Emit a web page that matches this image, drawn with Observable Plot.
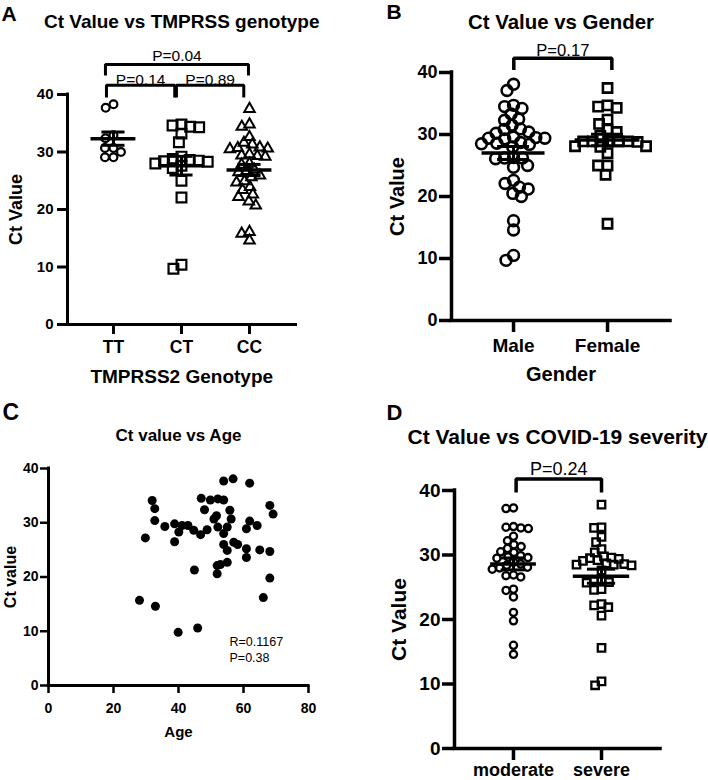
<!DOCTYPE html>
<html><head><meta charset="utf-8">
<script src="https://cdn.jsdelivr.net/npm/d3@7"></script>
<script src="https://cdn.jsdelivr.net/npm/@observablehq/plot@0.6"></script>
<style>
body{margin:0;background:#fff;}
#fig{position:relative;width:708px;height:780px;overflow:hidden;background:#fff;}
.panel{position:absolute;width:354px;height:390px;}
.panel g[aria-label$="tick label"], .panel g[aria-label$="tick label"] text{font-weight:bold !important;}
</style></head><body>
<div id="fig"></div>
<script>
// ---------- data ----------
const yTicks = [0, 10, 20, 30, 40];

// Panel A
const genotypes = ["TT", "CT", "CC"];
const ctTT = [38.3, 37.7, 32.9, 32.4, 30.7, 30.7, 30.0, 29.1, 29.1];
const ctCT = [34.8, 34.6, 34.4, 34.3, 33.2, 31.7, 29.2, 28.8, 28.6, 28.5, 28.4, 28.3, 28.0, 27.6, 27.2, 25.0, 22.1, 10.4, 9.7];
const ctCC = [37.5, 34.8, 34.4, 32.6, 31.6, 31.3, 30.8, 30.7, 30.6, 30.5, 29.6, 29.4, 29.3, 29.2, 28.0, 27.8, 26.9, 26.7, 26.5, 25.9, 25.6, 24.9, 24.7, 23.9, 23.4, 22.6, 22.2, 21.4, 20.7, 16.1, 15.8, 14.6];
const pA = ["P=0.04", "P=0.14", "P=0.89"];

// Panel B
const genders = ["Male", "Female"];
const ctMale = [38.1, 37.1, 34.7, 34.5, 34.2, 33.3, 32.5, 32.3, 31.5, 30.9, 30.8, 30.4, 30.2, 29.6, 29.5, 29.4, 29.4, 29.3, 28.7, 28.6, 28.5, 28.4, 28.0, 26.3, 26.2, 26.2, 26.1, 25.0, 24.7, 22.6, 22.1, 21.5, 21.2, 20.5, 20.0, 16.1, 14.6, 10.5, 9.7];
const ctFemale = [37.5, 34.7, 34.5, 34.3, 32.4, 31.7, 30.8, 30.4, 29.8, 28.9, 28.9, 28.9, 28.8, 28.9, 28.9, 28.1, 28.1, 28.0, 27.0, 25.0, 25.0, 23.5, 15.6];
const pB = ["P=0.17"];

// Panel C
const ageC = [28.0, 29.8, 31.9, 32.7, 32.7, 32.9, 35.8, 38.8, 38.8, 40.1, 41.1, 42.9, 39.9, 44.7, 44.9, 45.9, 46.8, 47.0, 48.0, 48.8, 49.8, 50.9, 51.7, 52.1, 52.1, 51.9, 51.9, 52.9, 53.9, 53.9, 53.9, 53.9, 55.0, 55.0, 55.0, 55.8, 56.2, 56.8, 57.0, 58.2, 60.9, 60.9, 60.9, 61.9, 61.9, 64.2, 65.0, 66.1, 68.1, 69.1, 68.1, 68.1];
const ctC  = [15.7, 27.2, 34.1, 32.6, 30.4, 14.6, 29.3, 26.5, 29.8, 28.3, 29.5, 29.5, 9.8, 28.6, 21.3, 10.6, 27.8, 34.5, 32.4, 28.7, 34.2, 30.7, 31.3, 34.4, 29.2, 22.1, 20.6, 22.3, 34.2, 37.7, 28.0, 26.0, 29.2, 24.9, 22.7, 32.3, 30.7, 38.1, 26.4, 26.0, 28.9, 25.2, 23.6, 30.3, 37.3, 29.5, 25.0, 16.2, 33.2, 31.6, 24.7, 19.8];
const ageTicks = [0, 20, 40, 60, 80];
const statsC = ["R=0.1167", "P=0.38"];

// Panel D
const severities = ["moderate", "severe"];
const ctModerate = [37.2, 37.3, 34.3, 34.2, 34.4, 34.1, 32.9, 32.2, 31.3, 31.6, 31.0, 30.5, 30.4, 29.6, 29.9, 29.7, 29.5, 28.9, 28.4, 28.6, 28.1, 28.0, 27.8, 26.8, 26.6, 26.9, 24.7, 24.5, 23.5, 21.1, 19.8, 16.0, 14.6];
const ctSevere = [37.8, 34.3, 34.2, 32.8, 32.0, 30.9, 30.4, 29.8, 29.6, 29.5, 29.4, 29.2, 29.1, 28.7, 28.6, 28.5, 28.4, 28.5, 27.6, 25.9, 25.9, 25.8, 25.7, 24.7, 24.6, 22.4, 22.2, 21.9, 20.6, 15.6, 10.4, 9.8];
const pD = ["P=0.24"];

// ---------- helpers ----------
const ARIAL = "'Liberation Sans', Arial, Helvetica, sans-serif";

function swarm(pys, diam) {
  const order = d3.range(pys.length).sort((a, b) => pys[a] - pys[b]);
  const placed = [];
  const out = new Array(pys.length);
  const d2 = diam * diam;
  for (const k of order) {
    const py = pys[k];
    const cands = [0];
    for (const q of placed) {
      const dy = q.py - py;
      if (Math.abs(dy) < diam) {
        const dx = Math.sqrt(d2 - dy * dy);
        cands.push(q.px - dx, q.px + dx);
      }
    }
    cands.sort((a, b) => Math.abs(a) - Math.abs(b) || a - b);
    let px = 0;
    for (const c of cands) {
      if (placed.every(q => (q.px - c) ** 2 + (q.py - py) ** 2 >= d2 - 1e-3)) { px = c; break; }
    }
    placed.push({px, py});
    out[k] = px;
  }
  return out;
}

function addPanel(svg, left, top) {
  const div = document.createElement("div");
  div.className = "panel";
  div.style.left = left + "px";
  div.style.top = top + "px";
  div.appendChild(svg);
  document.getElementById("fig").appendChild(div);
}

function textMarks(c) {
  const m = [];
  m.push(Plot.text([c.title], {text: d => d, frameAnchor: "top", dy: c.titleDy, lineAnchor: "bottom", fontSize: c.titleSize, fontWeight: "bold", fontFamily: ARIAL}));
  m.push(Plot.text([c.letter], {text: d => d, frameAnchor: "top-left", dx: c.letterDx, dy: c.letterDy, textAnchor: "start", lineAnchor: "bottom", fontSize: c.letterSize, fontWeight: "bold", fontFamily: ARIAL}));
  if (c.xLabel) m.push(Plot.text([c.xLabel], {text: d => d, frameAnchor: "bottom", dy: c.xLabelDy, lineAnchor: "bottom", fontSize: c.xLabelSize, fontWeight: "bold", fontFamily: ARIAL}));
  m.push(Plot.text([c.yLabel], {text: d => d, frameAnchor: "left", dx: c.yLabelDx, rotate: -90, textAnchor: "middle", lineAnchor: "middle", fontSize: c.yLabelSize, fontWeight: "bold", fontFamily: ARIAL}));
  return m;
}

function categoryPanel(c) {
  const yPx = d3.scaleLinear([0, 40], [c.height - c.mb, c.mt]);
  const ppu = (c.width - c.ml - c.mr) / (c.xDomain[1] - c.xDomain[0]);
  const marks = [];
  marks.push(Plot.ruleY([0], {strokeWidth: c.axisSW, strokeLinecap: "square"}));
  marks.push(Plot.ruleX([c.xDomain[0]], {y1: 0, y2: 40, strokeWidth: c.axisSW, strokeLinecap: "square"}));
  marks.push(Plot.axisY({ticks: yTicks, tickSize: c.yTickSize, tickPadding: c.yTickPad, strokeWidth: c.axisSW, fontSize: c.yTickFont, fontWeight: "bold", fontFamily: ARIAL, label: null}));
  marks.push(Plot.axisX({ticks: d3.range(c.groups.length), tickFormat: i => c.groups[i].name, tickSize: c.xTickSize, tickPadding: c.xTickPad, strokeWidth: c.axisSW, fontSize: c.xTickFont, fontWeight: "bold", fontFamily: ARIAL, label: null}));
  c.groups.forEach((g, i) => {
    const offs = swarm(g.values.map(yPx), g.diam);
    const pts = g.values.map((v, j) => ({x: i + offs[j] / ppu, y: v}));
    marks.push(Plot.dot(pts, {x: "x", y: "y", symbol: g.symbol, r: g.r, fill: "none", stroke: "black", strokeWidth: g.sw}));
  });
  const stats = c.groups.map((g, i) => ({
    i, mean: d3.mean(g.values),
    sem: d3.deviation(g.values) / Math.sqrt(g.values.length),
    hw: g.meanHalf, cw: g.capHalf
  }));
  marks.push(Plot.ruleY(stats, {x1: d => d.i - d.hw, x2: d => d.i + d.hw, y: "mean", strokeWidth: c.meanSW}));
  marks.push(Plot.ruleX(stats, {x: "i", y1: d => d.mean - d.sem, y2: d => d.mean + d.sem, strokeWidth: c.semSW}));
  marks.push(Plot.ruleY(stats, {x1: d => d.i - d.cw, x2: d => d.i + d.cw, y: d => d.mean + d.sem, strokeWidth: c.semSW}));
  marks.push(Plot.ruleY(stats, {x1: d => d.i - d.cw, x2: d => d.i + d.cw, y: d => d.mean - d.sem, strokeWidth: c.semSW}));
  c.brackets.forEach(b => {
    const path = [[b.x1, b.yLeg], [b.x1, b.yTop], [b.x2, b.yTop], [b.x2, b.yLeg]];
    marks.push(Plot.line(path, {x: d => d[0], y: d => d[1], strokeWidth: c.bracketSW, strokeLinejoin: "miter", strokeLinecap: "butt"}));
    marks.push(Plot.text([b.label], {text: d => d, x: (b.x1 + b.x2) / 2, y: b.yTop, dy: b.dy, lineAnchor: "bottom", fontSize: c.pSize, fontWeight: "normal", fontFamily: ARIAL}));
  });
  marks.push(...textMarks(c));
  const svg = Plot.plot({
    width: c.width, height: c.height,
    marginLeft: c.ml, marginRight: c.mr, marginTop: c.mt, marginBottom: c.mb,
    x: {domain: c.xDomain},
    y: {domain: [0, 40]},
    style: `font-family: ${ARIAL}; font-weight: bold; color: black; background: white; overflow: visible;`,
    marks
  });
  addPanel(svg, c.left, c.top);
}

// ---------- Panel A ----------
categoryPanel({
  left: 0, top: 0, width: 354, height: 390, ml: 67, mr: 58.5, mt: 94, mb: 66,
  xDomain: [-0.676, 2.684],
  groups: [
    {name: genotypes[0], values: ctTT, symbol: "circle", r: 3.9, sw: 2.2, diam: 8.5, meanHalf: 0.33, capHalf: 0.17},
    {name: genotypes[1], values: ctCT, symbol: "square", r: 5.5, sw: 2.2, diam: 9, meanHalf: 0.33, capHalf: 0.17},
    {name: genotypes[2], values: ctCC, symbol: "triangle", r: 3.9, sw: 2, diam: 8, meanHalf: 0.33, capHalf: 0.17}
  ],
  axisSW: 3, meanSW: 3.5, semSW: 3, bracketSW: 3,
  yTickSize: 10, yTickPad: 4, yTickFont: 15,
  xTickSize: 10, xTickPad: 6.5, xTickFont: 17.5,
  title: "Ct Value vs TMPRSS genotype", titleSize: 19, titleDy: -67,
  letter: "A", letterDx: -66, letterDy: -74, letterSize: 21,
  xLabel: "TMPRSS2 Genotype", xLabelSize: 19, xLabelDy: 58,
  yLabel: "Ct Value", yLabelSize: 18, yLabelDx: -51.5,
  pSize: 15.5,
  brackets: [
    {x1: -0.118, x2: 1.985, yTop: 45.2, yLeg: 43.3, label: pA[0], dy: -4},
    {x1: -0.103, x2: 0.901, yTop: 41.6, yLeg: 39.5, label: pA[1], dy: 0},
    {x1: 0.926, x2: 1.916, yTop: 41.6, yLeg: 39.5, label: pA[2], dy: 0}
  ]
});

// ---------- Panel B ----------
categoryPanel({
  left: 354, top: 0, width: 354, height: 390, ml: 97, mr: 38, mt: 72, mb: 70,
  xDomain: [-0.66, 1.67],
  groups: [
    {name: genders[0], values: ctMale, symbol: "circle", r: 5.4, sw: 2.6, diam: 9, meanHalf: 0.335, capHalf: 0.17},
    {name: genders[1], values: ctFemale, symbol: "square", r: 5.2, sw: 2.6, diam: 9.5, meanHalf: 0.345, capHalf: 0.17}
  ],
  axisSW: 3.5, meanSW: 3.5, semSW: 3, bracketSW: 3.5,
  yTickSize: 12, yTickPad: 2, yTickFont: 18,
  xTickSize: 12, xTickPad: 5.5, xTickFont: 19,
  title: "Ct Value vs Gender", titleSize: 20.4, titleDy: -44,
  letter: "B", letterDx: -65, letterDy: -54, letterSize: 21,
  xLabel: "Gender", xLabelSize: 20, xLabelDy: 60,
  yLabel: "Ct Value", yLabelSize: 20, yLabelDx: -53.5,
  pSize: 16.6,
  brackets: [
    {x1: 0.003, x2: 1.046, yTop: 42.3, yLeg: 40.4, label: pB[0], dy: -2}
  ]
});

// ---------- Panel D ----------
categoryPanel({
  left: 354, top: 390, width: 354, height: 390, ml: 100, mr: 48, mt: 100, mb: 32,
  xDomain: [-0.67, 1.67],
  groups: [
    {name: severities[0], values: ctModerate, symbol: "circle", r: 3.6, sw: 2.3, diam: 7.5, meanHalf: 0.26, capHalf: 0.14},
    {name: severities[1], values: ctSevere, symbol: "square", r: 4.2, sw: 2.3, diam: 7.5, meanHalf: 0.32, capHalf: 0.16}
  ],
  axisSW: 3.5, meanSW: 3.5, semSW: 3, bracketSW: 3.5,
  yTickSize: 12, yTickPad: 2, yTickFont: 19,
  xTickSize: 12, xTickPad: 2.5, xTickFont: 18,
  title: "Ct Value vs COVID-19 severity", titleSize: 21, titleDy: -47,
  letter: "D", letterDx: -68, letterDy: -71, letterSize: 22,
  xLabel: null,
  yLabel: "Ct Value", yLabelSize: 21, yLabelDx: -55,
  pSize: 18,
  brackets: [
    {x1: 0.03, x2: 1.0, yTop: 41.8, yLeg: 39.7, label: pD[0], dy: -4}
  ]
});

// ---------- Panel C ----------
(function () {
  const c = {
    title: "Ct value vs Age", titleSize: 17, titleDy: -28,
    letter: "C", letterDx: -46, letterDy: -49, letterSize: 23,
    xLabel: "Age", xLabelSize: 15, xLabelDy: 51,
    yLabel: "Ct value", yLabelSize: 16, yLabelDx: -38
  };
  const pts = ageC.map((a, i) => ({age: a, ct: ctC[i]}));
  const svg = Plot.plot({
    width: 354, height: 390, marginLeft: 48, marginRight: 46, marginTop: 78, marginBottom: 95,
    x: {domain: [0, 80]},
    y: {domain: [0, 40]},
    style: `font-family: ${ARIAL}; font-weight: bold; color: black; background: white; overflow: visible;`,
    marks: [
      Plot.ruleY([0], {strokeWidth: 3, strokeLinecap: "square"}),
      Plot.ruleX([0], {y1: 0, y2: 40, strokeWidth: 3, strokeLinecap: "square"}),
      Plot.axisY({ticks: yTicks, tickSize: 8, tickPadding: 2, strokeWidth: 2.5, fontSize: 14, fontWeight: "bold", fontFamily: ARIAL, label: null}),
      Plot.axisX({ticks: ageTicks, tickSize: 8, tickPadding: 10, strokeWidth: 2.5, fontSize: 14, fontWeight: "bold", fontFamily: ARIAL, label: null}),
      Plot.dot(pts, {x: "age", y: "ct", r: 4.5, fill: "black", stroke: "none"}),
      Plot.text([statsC.join("\n")], {text: d => d, x: 55.7, y: 4.4, textAnchor: "start", lineAnchor: "bottom", lineHeight: 1.25, fontSize: 12.5, fontWeight: "normal", fontFamily: ARIAL}),
      ...textMarks(c)
    ]
  });
  addPanel(svg, 0, 390);
})();
</script>
</body></html>
